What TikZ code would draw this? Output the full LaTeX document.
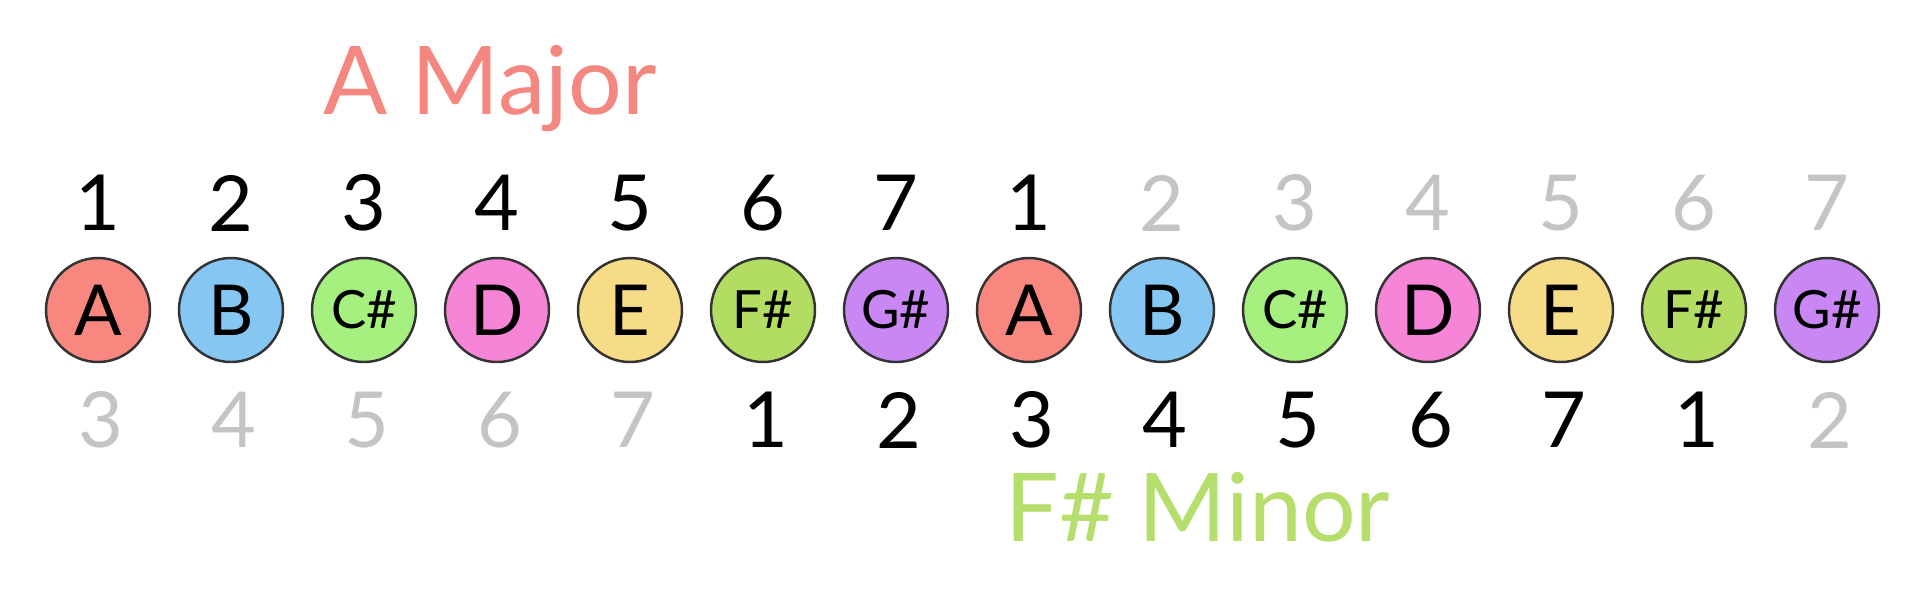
\documentclass[tikz,border=0pt]{standalone}
\usepackage{fontspec}
\setmainfont{Lato}
\usetikzlibrary{calc}
\definecolor{noteA}{HTML}{F8877F}
\definecolor{noteB}{HTML}{85C6F2}
\definecolor{noteC}{HTML}{A5F07F}
\definecolor{noteD}{HTML}{F685D8}
\definecolor{noteE}{HTML}{F6DC87}
\definecolor{noteF}{HTML}{B2DD62}
\definecolor{noteG}{HTML}{C887F2}
\definecolor{majortxt}{HTML}{F4877F}
\definecolor{minortxt}{HTML}{B6DE6C}

\begin{document}
\begin{tikzpicture}[x=0.1mm,y=-0.1mm,
  note/.style={circle, draw=black!80, line width=0.7pt, minimum size=10.4mm, inner sep=0pt,
    font=\fontsize{20}{24}\selectfont},
  sharp/.style={font=\fontsize{15}{18}\selectfont},
  deg/.style={font=\fontsize{22}{26}\selectfont}]
\useasboundingbox (0,0) rectangle (1917,593);

% the notes, two octaves
\foreach \l/\c/\s [count=\i from 0] in {A/noteA/,B/noteB/,C\#/noteC/sharp,D/noteD/,E/noteE/,F\#/noteF/sharp,G\#/noteG/sharp,
    A/noteA/,B/noteB/,C\#/noteC/sharp,D/noteD/,E/noteE/,F\#/noteF/sharp,G\#/noteG/sharp}
  \node [note, fill=\c, \s] (n\i) at (98+133*\i,310) {\l};

% degrees of A major above, F# minor below
\foreach \i in {0,...,13} {
  \pgfmathtruncatemacro\up{mod(\i,7)+1}
  \pgfmathtruncatemacro\dn{mod(\i+2,7)+1}
  \pgfmathtruncatemacro\gu{\i<8 ? 100 : 23}
  \pgfmathtruncatemacro\gd{(\i>4 && \i<13) ? 100 : 23}
  \node [deg, text=black!\gu] (t\i) at ($(n\i)+(0,-107)$) {\up};
  \node [deg, text=black!\gd] (b\i) at ($(n\i)+(3,110)$) {\dn};
}

\node [majortxt, font=\fontsize{27}{32}\selectfont] (major) at (490,89) {A Major};
\node [minortxt, font=\fontsize{27}{32}\selectfont] (minor) at (1198,507) {F\# Minor};
\end{tikzpicture}
\end{document}
